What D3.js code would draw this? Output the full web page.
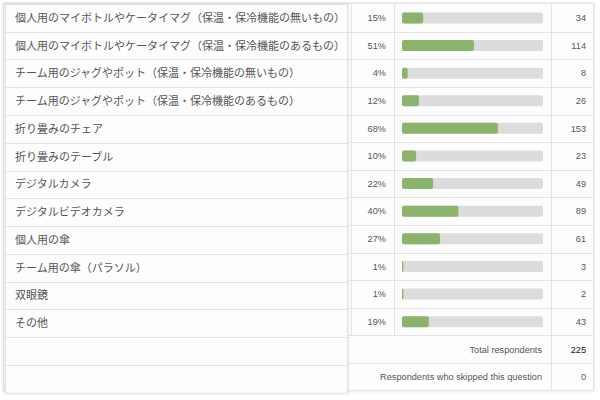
<!DOCTYPE html>
<html>
<head>
<meta charset="utf-8">
<script src="https://cdn.jsdelivr.net/npm/d3@7"></script>
<style>
  body { margin: 0; background: #fff; }
</style>
</head>
<body>
<div id="chart"></div>
<script>
const labels = [
    "個人用のマイボトルやケータイマグ（保温・保冷機能の無いもの）",
    "個人用のマイボトルやケータイマグ（保温・保冷機能のあるもの）",
    "チーム用のジャグやポット（保温・保冷機能の無いもの）",
    "チーム用のジャグやポット（保温・保冷機能のあるもの）",
    "折り畳みのチェア",
    "折り畳みのテーブル",
    "デジタルカメラ",
    "デジタルビデオカメラ",
    "個人用の傘",
    "チーム用の傘（パラソル）",
    "双眼鏡",
    "その他"
];
const percents = [15, 51, 4, 12, 68, 10, 22, 40, 27, 1, 1, 19];
const counts = [34, 114, 8, 26, 153, 23, 49, 89, 61, 3, 2, 43];
const summaryLabels = ["Total respondents", "Respondents who skipped this question"];
const summaryValues = [225, 0];

const width = 600;
const height = 400;
const nRows = labels.length + summaryLabels.length;
const lineColor = "#e3e3e3";
const latinFont = "'Liberation Sans', Arial, sans-serif";
const cjkFont = "'Noto Sans CJK JP', sans-serif";

const svg = d3.select("#chart")
    .append("svg")
    .attr("width", width)
    .attr("height", height);

// soft shadow round the table
const defs = svg.append("defs");
const shadow = defs.append("filter").attr("id", "shadow")
    .attr("x", "-5%").attr("y", "-5%").attr("width", "110%").attr("height", "110%");
shadow.append("feDropShadow")
    .attr("dx", 0).attr("dy", 0).attr("stdDeviation", 1.2)
    .attr("flood-color", "#000").attr("flood-opacity", 0.18);

// row scales (the label panel sits a touch lower than the rest)
const yRight = d3.scaleBand().domain(d3.range(nRows)).range([4.1, 390.7]);
const yLeft = d3.scaleBand().domain(d3.range(nRows)).range([3.9, 392.7]);

// column edges
const colLabel = [5, 347];
const colPct = 351;
const colBar = 394;
const colCount = 551;
const colEnd = 593;

const x = d3.scaleLinear().domain([0, 100]).range([402, 543]);

// outer frame
svg.append("rect")
    .attr("x", 3.5).attr("y", 3.5)
    .attr("width", colEnd - 3)
    .attr("height", yRight.range()[1] - 3.5)
    .attr("fill", "#fdfdfd")
    .attr("stroke", lineColor)
    .attr("filter", "url(#shadow)");

// right part: row lines
const right = svg.append("g");
right.selectAll("line.row")
    .data(d3.range(1, nRows))
    .enter()
    .append("line")
    .attr("x1", colLabel[1]).attr("x2", colEnd)
    .attr("y1", d => Math.round(yRight(d)) + 0.5)
    .attr("y2", d => Math.round(yRight(d)) + 0.5)
    .attr("stroke", lineColor);

// vertical lines for the data rows
const dataBottom = yRight(labels.length);
[colPct, colBar].forEach(cx => {
    right.append("line")
        .attr("x1", cx + 0.5).attr("x2", cx + 0.5)
        .attr("y1", yRight(0)).attr("y2", dataBottom)
        .attr("stroke", lineColor);
});
right.append("line")
    .attr("x1", colCount + 0.5).attr("x2", colCount + 0.5)
    .attr("y1", yRight(0)).attr("y2", yRight.range()[1])
    .attr("stroke", lineColor);

// left label panel
const left = svg.append("g");
left.append("rect")
    .attr("x", colLabel[0] + 0.5).attr("y", yLeft(0) + 0.5)
    .attr("width", colLabel[1] - colLabel[0])
    .attr("height", yLeft.range()[1] - yLeft(0))
    .attr("fill", "#fdfdfd")
    .attr("stroke", lineColor)
    .attr("filter", "url(#shadow)");
left.selectAll("line.row")
    .data(d3.range(1, nRows))
    .enter()
    .append("line")
    .attr("x1", colLabel[0]).attr("x2", colLabel[1])
    .attr("y1", d => Math.round(yLeft(d)) + 0.5)
    .attr("y2", d => Math.round(yLeft(d)) + 0.5)
    .attr("stroke", lineColor);

left.selectAll("text")
    .data(labels)
    .enter()
    .append("text")
    .attr("x", 15)
    .attr("y", (d, i) => yLeft(i) + yLeft.bandwidth() / 2)
    .attr("dy", "0.36em")
    .attr("font-family", cjkFont)
    .attr("font-size", "11px")
    .attr("fill", "#555")
    .text(d => d);

// data rows
const rows = right.selectAll("g.datarow")
    .data(labels.map((d, i) => ({ label: d, pct: percents[i], count: counts[i], i })))
    .enter()
    .append("g")
    .attr("transform", d => `translate(0, ${yRight(d.i) + yRight.bandwidth() / 2})`);

rows.append("text")
    .attr("x", 386)
    .attr("dy", "0.35em")
    .attr("text-anchor", "end")
    .attr("font-family", latinFont)
    .attr("font-size", "9.2px")
    .attr("fill", "#555")
    .text(d => `${d.pct}%`);

rows.append("rect")
    .attr("x", x(0))
    .attr("y", -5.5)
    .attr("width", x(100) - x(0))
    .attr("height", 11)
    .attr("rx", 2)
    .attr("fill", "#dcdcdc");

rows.append("rect")
    .attr("x", x(0))
    .attr("y", -5.5)
    .attr("width", d => x(d.pct) - x(0))
    .attr("height", 11)
    .attr("rx", 2)
    .attr("fill", "#8ab46c");

rows.append("text")
    .attr("x", 586)
    .attr("dy", "0.35em")
    .attr("text-anchor", "end")
    .attr("font-family", latinFont)
    .attr("font-size", "9.2px")
    .attr("fill", "#555")
    .text(d => d.count);

// summary rows
const summary = right.selectAll("g.summary")
    .data(summaryLabels.map((d, i) => ({ label: d, value: summaryValues[i], i: labels.length + i })))
    .enter()
    .append("g")
    .attr("transform", d => `translate(0, ${yRight(d.i) + yRight.bandwidth() / 2})`);

summary.append("text")
    .attr("x", 542)
    .attr("dy", "0.35em")
    .attr("text-anchor", "end")
    .attr("font-family", latinFont)
    .attr("font-size", "9.2px")
    .attr("fill", "#555")
    .text(d => d.label);

summary.append("text")
    .attr("x", 586)
    .attr("dy", "0.35em")
    .attr("text-anchor", "end")
    .attr("font-family", latinFont)
    .attr("font-size", "9.2px")
    .attr("fill", (d, i) => i === 0 ? "#222" : "#555")
    .text(d => d.value);
</script>
</body>
</html>
